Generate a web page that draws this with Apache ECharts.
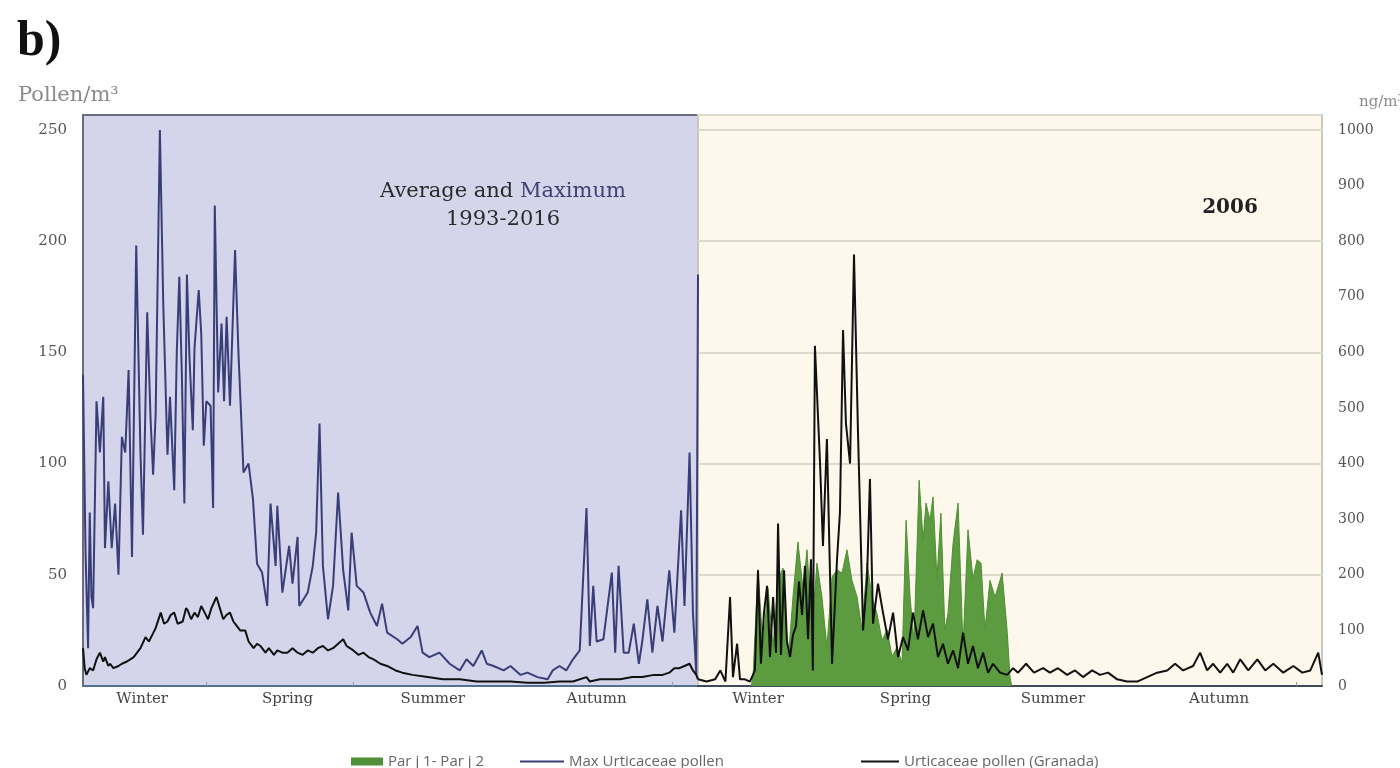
<!DOCTYPE html>
<html><head><meta charset="utf-8">
<script src="https://cdn.jsdelivr.net/npm/echarts@6/dist/echarts.min.js"></script>
<style>html,body{margin:0;padding:0;background:#fff}#c{width:1400px;height:768px}</style>
</head><body><div id="c"></div>
<script>
// ---- axis labels ----
const seasonNames = ['Winter', 'Spring', 'Summer', 'Autumn'];
const seasonLabelDays = [35, 121, 207, 304];
const seasonTickDays = [73, 160, 349];

// ---- Left panel: Average and Maximum 1993-2016 (pollen/m3) ----
const maxDays = [0,1.5,3,4,5,6,8,10,12,13,15,17,19,21,23,25,27,29,31.5,34,35.5,38,40,41.5,43,45.5,47.5,50,51.5,54,55.5,57,58.5,60,61.5,63,65,66,68.5,70,71.5,73,75.5,77,78,80,82,83.5,85,87,90,92,95,98,100.6,103,106,109,111,114,115,118,122,124,127,128,133,136,138,140,142,145,148,151,154,157,159,162,166,170,174,177,180,186,189,194,198,201,205,211,217,223,227,231,236,239,243,249,253,259,263,269,275,278,282,286,290,294,298,300,302,304,308,313,315,317,320,323,326,329,331,334,337,340,343,347,350,354,356,359,361,363,364];
const maxVals = [140,60,17,78,40,35,128,105,130,62,92,62,82,50,112,105,142,58,198,105,68,168,120,95,122,250,172,104,130,88,150,184,140,82,185,148,115,152,178,158,108,128,126,80,216,132,163,128,166,126,196,150,96,100,84,55,51,36,82,54,81,42,63,46,67,36,42,54,69,118,54,30,45,87,52,34,69,45,42,33,27,37,24,21,19,22,27,15,13,15,10,7,12,9,16,10,9,7,9,5,6,4,3,7,9,7,12,16,80,18,45,20,21,51,15,54,15,15,28,10,20,39,15,36,20,52,24,79,36,105,33,5,185];

const avgDays = [0,1,2,4,6,8,10,12,13,15,16,18,21,23,26,28,30,32,34,37,39,41,43,46,48,50,52,54,56,59,61,62,64,66,68,70,72,74,76,79,81,83,85,87,89,91,93,96,98,101,103,105,108,110,113,115,118,121,124,127,130,133,136,139,142,145,148,151,154,156,158,160,163,166,169,172,176,180,185,189,195,204,213,223,233,243,253,263,273,282,290,298,300,306,312,318,325,331,338,343,347,350,353,356,359,361,363,364];
const avgVals = [17,8,5,8,7,12,15,11,13,9,10,8,9,10,11,12,13,15,17,22,20,23,26,33,28,29,32,33,28,29,35,34,30,33,31,36,33,30,35,40,35,30,32,33,29,27,25,25,20,17,19,18,15,17,14,16,15,15,17,15,14,16,15,17,18,16,17,19,21,18,17,16,14,15,13,12,10,9,7,6,5,4,3,3,2,2,2,1.5,1.5,2,2,4,2,3,3,3,4,4,5,5,6,8,8,9,10,7,5,3];

// ---- Right panel: 2006 ----
const pollen2006Days = [0,1,5,10,13,16,18.7,20.4,22.8,24.5,27.4,30.3,33.2,35,36.7,38.5,40.3,42,43.8,45.5,46.7,48.4,50.2,51.9,53.7,55.4,57.2,58.9,60.7,62.4,64.2,65.9,67,68.2,71.2,72.9,75.2,78.2,81.1,82.8,84.6,86.3,88.7,91,93.3,96.3,98.6,100.3,102.1,105,107.9,110.8,113.8,116.7,119.6,122.5,125.4,128.3,131.3,134.2,137.1,140,142.9,145.8,148.8,151.7,154.6,157.5,160.4,163.3,166.3,169.2,172.1,176.2,180.3,183.8,186.7,191.4,196,201.3,205.3,210,215.3,219.9,224.6,229.9,234.5,239.2,244.5,250.3,256.2,262,267.8,273.7,278.3,283,288.8,292.9,297,300.5,304.6,308.7,312.2,316.3,321,326.3,330.9,335.6,341.4,347.3,352.5,357.2,361.8,364];
const pollen2006Vals = [3,3,2,3,7,2,40,4,19,3,3,2,7,52,10,33,45,13,40,15,73,14,52,20,13,23,27,47,32,54,21,57,7,153,100,63,111,10,57,78,160,118,100,194,115,25,48,93,28,46,33,21,33,13,22,16,33,21,34,22,28,13,19,10,16,8,24,10,18,8,15,6,10,6,5,8,6,10,6,8,6,8,5,7,4,7,5,6,3,2,2,4,6,7,10,7,9,15,7,10,6,10,6,12,7,12,7,10,6,9,6,7,15,5];

const parjDays = [31,32.1,35,37.9,40.8,43.8,46.7,49.6,52.5,55.4,58.3,61.3,63.6,66.5,69.4,72.3,75.2,78.2,81.1,84,86.9,89.8,92.8,95.7,98.6,101.5,104.4,107.4,110.3,113.2,116.1,119,121.4,123.7,126,129,131.3,133,135.3,137.1,139.4,141.7,144,145.8,148.8,151.7,154.6,157.5,160.4,162.8,165.1,167.4,170.3,173.3,177.4,180.3,182,183];
const parjVals = [0,16,209,70,176,70,191,212,41,160,259,173,245,101,221,160,70,196,209,203,245,190,160,101,221,160,130,82,101,53,70,41,298,160,82,370,262,329,298,340,193,311,101,130,257,329,70,281,193,227,221,101,190,160,203,101,16,0];

const pairs = (d, v) => d.map((x, i) => [x, v[i]]);

const POLLEN_MAX = 256.7, NG_MAX = 1026.9;
const serif = 'DejaVu Serif';

const xAxisBase = (gi, lineColor) => ({
  type: 'value', gridIndex: gi, min: 0, max: 364,
  splitLine: { show: false },
  axisLine: { show: true, lineStyle: { color: lineColor, width: 2 } },
  axisTick: { show: true, customValues: seasonTickDays, length: 4, inside: true, lineStyle: { color: '#8a9bb0' } },
  axisLabel: {
    customValues: seasonLabelDays, margin: 6,
    formatter: v => seasonNames[seasonLabelDays.indexOf(v)] || '',
    color: '#444', fontFamily: serif, fontSize: 15
  }
});

const chart = echarts.init(document.getElementById('c'), null, { renderer: 'canvas' });
chart.setOption({
  animation: false,
  backgroundColor: '#ffffff',
  title: [
    { text: 'b)', left: 12, top: 12, textStyle: { fontFamily: 'Liberation Serif', fontWeight: 'bold', fontSize: 50, color: '#111' } },
    { text: 'Pollen/m³', left: 13, top: 80, textStyle: { fontFamily: serif, fontWeight: 'normal', fontSize: 21, color: '#8a8a8a' } },
    { text: 'ng/m³', left: 1354, top: 90, textStyle: { fontFamily: serif, fontWeight: 'normal', fontSize: 15, color: '#8a8a8a' } },
    { text: '{a|Average and }{m|Maximum}\n{a|1993-2016}', left: 498, top: 173, textAlign: 'center',
      textStyle: { fontWeight: 'normal', rich: {
        a: { fontFamily: serif, fontSize: 21, fontWeight: 'normal', color: '#2a2a2a', lineHeight: 28 },
        m: { fontFamily: serif, fontSize: 21, fontWeight: 'normal', color: '#3d4273', lineHeight: 28 } } } },
    { text: '2006', left: 1225, top: 193, textAlign: 'center', textStyle: { fontFamily: serif, fontWeight: 'bold', fontSize: 20, color: '#222' } }
  ],
  legend: [
    { data: ['Par j 1- Par j 2'], left: 346, top: 749, icon: 'rect', itemWidth: 32, itemHeight: 8, itemGap: 4,
      textStyle: { color: '#666', fontFamily: 'Open Sans', fontSize: 15 } },
    { data: ['Max Urticaceae pollen'], left: 515, top: 749, icon: 'rect', itemWidth: 44, itemHeight: 2,
      textStyle: { color: '#666', fontFamily: 'Open Sans', fontSize: 15 } },
    { data: ['Urticaceae pollen (Granada)'], left: 856, top: 749, icon: 'rect', itemWidth: 38, itemHeight: 2,
      textStyle: { color: '#666', fontFamily: 'Open Sans', fontSize: 15 } }
  ],
  grid: [
    { left: 83, top: 115, width: 615, height: 571, show: true, backgroundColor: '#d4d4ea', borderColor: '#6c6c80', borderWidth: 2 },
    { left: 698, top: 115, width: 624, height: 571, show: true, backgroundColor: '#fef8ec', borderColor: '#cbc9bf', borderWidth: 2 }
  ],
  xAxis: [ xAxisBase(0, '#52708f'), xAxisBase(1, '#3c4a5c') ],
  yAxis: [
    { type: 'value', gridIndex: 0, position: 'left', min: 0, max: POLLEN_MAX, interval: 50,
      axisLine: { show: false }, axisTick: { show: false }, splitLine: { show: false },
      axisLabel: { showMaxLabel: false, margin: 16, color: '#555', fontFamily: serif, fontSize: 15, formatter: v => String(v) } },
    { type: 'value', gridIndex: 1, position: 'left', min: 0, max: POLLEN_MAX, interval: 50,
      axisLine: { show: false }, axisTick: { show: false }, axisLabel: { show: false },
      splitLine: { show: true, lineStyle: { color: '#dedacd', width: 2 } } },
    { type: 'value', gridIndex: 1, position: 'right', min: 0, max: NG_MAX, interval: 100,
      axisLine: { show: false }, axisTick: { show: false }, splitLine: { show: false },
      axisLabel: { showMaxLabel: false, margin: 16, color: '#555', fontFamily: serif, fontSize: 14, formatter: v => String(v) } }
  ],
  series: [
    { name: 'Max Urticaceae pollen', type: 'line', xAxisIndex: 0, yAxisIndex: 0, showSymbol: false,
      data: pairs(maxDays, maxVals), lineStyle: { color: '#3a3e78', width: 2 }, itemStyle: { color: '#3a3e78' } },
    { name: 'Urticaceae pollen (Granada)', type: 'line', xAxisIndex: 0, yAxisIndex: 0, showSymbol: false,
      data: pairs(avgDays, avgVals), lineStyle: { color: '#111', width: 2 }, itemStyle: { color: '#111' } },
    { name: 'Par j 1- Par j 2', type: 'line', xAxisIndex: 1, yAxisIndex: 2, showSymbol: false,
      data: pairs(parjDays, parjVals), lineStyle: { color: '#4f8f36', width: 1 }, itemStyle: { color: '#4f8f36' },
      areaStyle: { color: '#5c9b40', opacity: 1 } },
    { name: 'Urticaceae pollen (Granada)', type: 'line', xAxisIndex: 1, yAxisIndex: 1, showSymbol: false,
      data: pairs(pollen2006Days, pollen2006Vals), lineStyle: { color: '#111', width: 2 }, itemStyle: { color: '#111' } }
  ]
});
</script>
</body></html>
